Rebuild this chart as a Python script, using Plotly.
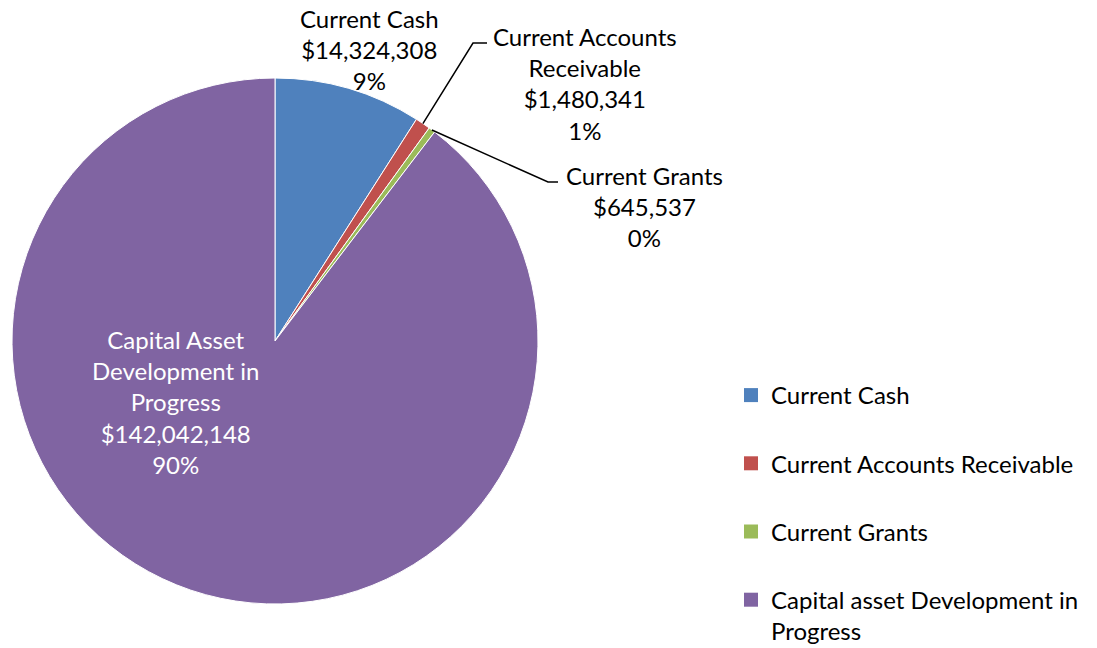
import math
import plotly.graph_objects as go

# ---- data ----
categories = ["Current Cash", "Current Accounts Receivable", "Current Grants",
              "Capital asset Development in Progress"]
legend_labels = ["Current Cash", "Current Accounts Receivable", "Current Grants",
                 "Capital asset Development in<br>Progress"]
slice_labels = ["Current Cash", "Current Accounts<br>Receivable", "Current Grants",
                "Capital Asset<br>Development in<br>Progress"]
values = [14324308, 1480341, 645537, 142042148]
colors = ["#4F81BD", "#C0504D", "#9BBB59", "#8064A2"]

# page has an 8px body margin: the figure starts at (8, 8) on screen
OFF = 8
W, H = 1097, 648
FONT = "Lato"
FS = 24

# pie geometry (screen pixels)
cx, cy, r = 275, 341, 263

total = sum(values)
pcts = [round(v / total * 100) for v in values]


def px2paper(x, y):
    return (x - OFF) / W, 1 - (y - OFF) / H


# x-domain wider than needed (centred on cx); y-domain sets the radius
dx0, dy0 = px2paper(OFF, cy + r)
dx1, dy1 = px2paper(2 * cx - OFF, cy - r)

fig = go.Figure()
fig.add_trace(go.Pie(
    labels=categories, values=values, sort=False, direction="clockwise",
    rotation=0, textinfo="none", hoverinfo="label+value+percent",
    marker=dict(colors=colors, line=dict(color="white", width=1)),
    domain=dict(x=[dx0, dx1], y=[dy0, dy1]),
    showlegend=False,
))

# legend entries (one per category, square markers)
for lab, col in zip(legend_labels, colors):
    fig.add_trace(go.Scatter(x=[None], y=[None], mode="markers", name=lab,
                             legendgroup=lab,
                             marker=dict(symbol="square", size=14, color=col),
                             hoverinfo="skip"))

# label text
texts = [f"{sl}<br>${v:,.0f}<br>{p}%" for sl, v, p in zip(slice_labels, values, pcts)]

# label centres (screen pixels)
label_pos = [(369, 50), (585, 84), (644, 206), (175, 402)]
label_col = ["black", "black", "black", "white"]
for t, (lx, ly), c in zip(texts, label_pos, label_col):
    px, py = px2paper(lx, ly)
    fig.add_annotation(x=px, y=py, xref="paper", yref="paper", text=t, showarrow=False,
                       font=dict(family=FONT, size=FS, color=c), align="center",
                       xanchor="center", yanchor="middle")

# leader lines from slice mid-angle on the rim
cum = 0
mids = []
for v in values:
    mids.append((cum + v / 2) / total)
    cum += v
elbows = {1: [(473, 43), (487, 43)], 2: [(548, 182), (558, 182)]}
for i, pts in elbows.items():
    a = 2 * math.pi * mids[i]
    ex, ey = cx + r * math.sin(a), cy - r * math.cos(a)
    path_pts = [(ex, ey)] + pts
    path = "M " + " L ".join(f"{px2paper(x, y)[0]},{px2paper(x, y)[1]}" for x, y in path_pts)
    fig.add_shape(type="path", path=path, xref="paper", yref="paper",
                  line=dict(color="black", width=1.5))

lx, ly = px2paper(731, 373)
fig.update_layout(
    width=W, height=H,
    margin=dict(l=0, r=0, t=0, b=0, autoexpand=False),
    paper_bgcolor="white", plot_bgcolor="white",
    xaxis=dict(visible=False), yaxis=dict(visible=False),
    legend=dict(x=lx, y=ly, xanchor="left", yanchor="top",
                font=dict(family=FONT, size=FS, color="black"),
                tracegroupgap=34, valign="top", itemclick=False),
)

fig.write_html("out.html")
